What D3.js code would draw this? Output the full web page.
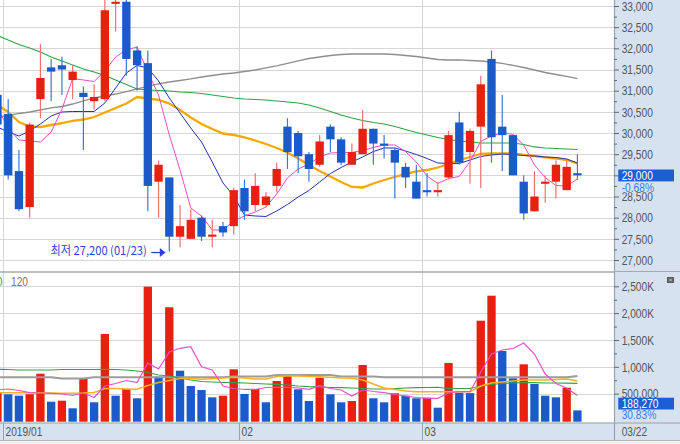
<!DOCTYPE html>
<html><head><meta charset="utf-8">
<script src="https://cdn.jsdelivr.net/npm/d3@7"></script>
<style>html,body{margin:0;padding:0;background:#fff;} svg{display:block;}</style>
</head><body><svg id="c" width="680" height="444"></svg>
<script>
// ---------- DATA ----------
const dates = ["2018-12-28","2019-01-02","2019-01-03","2019-01-04","2019-01-07","2019-01-08","2019-01-09","2019-01-10","2019-01-11","2019-01-14","2019-01-15","2019-01-16","2019-01-17","2019-01-18","2019-01-21","2019-01-22","2019-01-23","2019-01-24","2019-01-25","2019-01-28","2019-01-29","2019-01-30","2019-01-31","2019-02-01","2019-02-07","2019-02-08","2019-02-11","2019-02-12","2019-02-13","2019-02-14","2019-02-15","2019-02-18","2019-02-19","2019-02-20","2019-02-21","2019-02-22","2019-02-25","2019-02-26","2019-02-27","2019-02-28","2019-03-04","2019-03-05","2019-03-06","2019-03-07","2019-03-08","2019-03-11","2019-03-12","2019-03-13","2019-03-14","2019-03-15","2019-03-18","2019-03-19","2019-03-20","2019-03-21","2019-03-22"];
const open  = [30900,30450,29100,28250,30800,31550,31600,31250,30950,30750,30800,33050,33100,31950,31650,28850,28950,27550,27500,28000,27550,27800,27800,28700,28300,28300,28750,30150,30000,29500,29250,30150,29850,29250,29500,30100,29750,29600,29200,28850,28650,28600,28950,30250,29550,30150,31750,30150,29950,28850,28150,28800,28850,28650,29050];
const high  = [30950,30800,29600,30250,32100,31750,31800,31600,31100,31150,33200,33200,33150,32050,31950,29350,28950,28300,28200,28050,27950,27900,28700,28900,29050,28600,29300,30350,30050,29550,29950,30200,29900,29750,30550,30100,29950,29650,29300,29250,29050,28850,30050,30500,30100,31350,31950,30900,29950,29000,29100,29000,29350,29350,29500];
const low   = [30100,28900,28150,28000,30350,30750,30900,30800,29600,30550,30750,32400,31350,31000,28150,28000,27200,27300,27500,27450,27300,27550,27600,27950,28150,28250,28600,29150,29050,28850,29200,29550,29250,29250,29500,29250,29400,28450,28700,28450,28500,28500,28900,29250,28800,28700,29300,29100,29000,27950,28150,28350,28450,28650,28900];
const close = [30200,29000,28200,30200,31300,31450,31500,31450,30850,30850,32900,33100,31750,31600,28750,29250,27550,27800,27950,27550,27600,27650,28650,28150,28750,28500,29150,29550,29450,29150,29800,29850,29300,29550,30100,29750,29700,29300,28950,28450,28600,28650,29950,29300,30050,31150,29900,29950,29000,28100,28500,28850,29250,29200,29000];
const volume = [520000,488000,462000,490000,872000,350000,369000,227000,786000,339000,1611000,462000,587000,414000,2493000,816000,2109000,928000,643000,568000,432000,462000,954000,494000,587000,339000,736000,829000,581000,363000,797000,488000,339000,363000,1034000,414000,339000,507000,462000,414000,425000,239000,1072000,518000,510000,1859000,2325000,1295000,786000,1047000,680000,462000,432000,611000,188270];

// price moving averages
const ma5   = [30591,30118,29835,29811,29787,30024,30560,31287,31252,31217,31465,31795,31961,32032,31441,30898,29953,29126,28229,28040,27709,27709,27922,28040,28134,28252,28559,28937,29150,29268,29433,29528,29540,29540,29587,29658,29717,29717,29563,29315,28984,28807,28925,28973,29327,29799,29929,30012,29965,29717,29244,28949,28760,28748,28914];
const ma10  = [30142,30024,29929,30047,30213,30402,30496,30508,30508,30508,30709,31063,31417,31595,31536,31228,30827,30473,30118,29788,29315,28819,28512,28063,28040,28028,28158,28311,28489,28642,28843,29043,29185,29315,29433,29563,29646,29646,29575,29492,29398,29292,29280,29280,29362,29445,29481,29504,29492,29469,29457,29433,29422,29386,29292];
const ma20  = [30662,30496,30260,30154,30142,30189,30236,30284,30319,30378,30485,30591,30697,30850,30815,30780,30697,30543,30366,30213,30095,29988,29953,29894,29823,29740,29646,29540,29398,29244,29103,28973,28843,28725,28713,28807,28890,28961,29032,29091,29126,29185,29268,29362,29433,29504,29516,29516,29516,29481,29457,29422,29398,29362,29279];
const ma60  = [32303,32197,32091,32008,31913,31795,31701,31606,31512,31441,31358,31252,31146,31040,31016,31004,30992,30969,30957,30933,30898,30862,30827,30803,30791,30780,30756,30732,30709,30662,30591,30508,30425,30355,30296,30248,30213,30154,30083,30012,29953,29894,29847,29811,29788,29764,29764,29764,29764,29729,29670,29646,29634,29622,29610];
const ma120 = [30366,30414,30461,30496,30543,30591,30626,30685,30756,30827,30874,30921,30980,31040,31099,31158,31205,31240,31276,31323,31358,31394,31417,31453,31488,31536,31583,31643,31701,31760,31795,31831,31854,31866,31866,31866,31866,31854,31831,31807,31772,31736,31725,31725,31713,31701,31677,31643,31595,31547,31488,31429,31382,31335,31287];

// volume moving averages (thousands)
const vma5   = [568,587,559,518,512,507,494,466,512,428,643,689,745,708,1071,959,1276,1345,1375,1002,941,643,596,578,578,615,619,619,605,581,648,596,568,456,568,540,518,484,456,428,414,414,512,537,537,904,1239,1313,1341,1444,1239,866,689,605,466];
const vma20  = [518,518,518,518,518,512,507,507,512,522,596,596,587,581,652,708,745,782,782,768,779,792,805,792,773,773,820,829,829,820,816,805,792,786,755,680,605,578,550,537,537,537,537,537,537,643,699,717,736,755,755,755,764,773,736];
const vma60  = [954,950,941,941,941,941,950,950,950,950,954,950,941,922,894,848,829,792,755,727,717,708,704,699,689,680,674,661,643,630,624,615,611,605,596,587,587,592,605,611,615,619,596,596,596,643,671,689,699,704,704,699,699,695,693];
const vma120 = [805,805,805,805,805,805,782,782,782,805,805,805,805,805,805,805,805,805,805,805,805,805,820,820,820,820,848,848,848,848,848,848,820,820,820,820,805,805,805,805,805,805,805,805,805,805,805,805,805,805,805,805,805,805,829];

// axis ticks / labels
const priceTicks = [27000,27500,28000,28500,29000,29500,30000,30500,31000,31500,32000,32500,33000];
const volTicks = [500000,1000000,1500000,2000000,2500000];
const volTickLabels = ["500,000","1,000K","1,500K","2,000K","2,500K"];
const monthTickDates = ["2019-01-02","2019-02-01","2019-03-04"];
const monthTickLabels = ["2019/01","02","03"];
const lastDateLabel = "03/22";
const lastChangePct = "-0.68%";
const lastVolPct = "30.83%";

// ---------- LAYOUT ----------
const W = 680, H = 444, PR = 614;
const svg = d3.select("#c");
const x = d3.scalePoint().domain(dates).range([-2.54, 577.42]);
const bw = x.step() * 0.775;
const y = d3.scaleLinear().domain([27000, 33000]).range([260, 6]);
const yv = d3.scaleLinear().domain([0, 2500000]).range([420.5, 286.3]);

const RED = "#e8200f", BLUE = "#1a5bc9", REDW = "#f07070", BLUEW = "#3b78d8";
const PANEL = "#d6e2ef";
const FONT = "'Liberation Sans', Arial, sans-serif";
const SX = 0.85;

svg.append("rect").attr("width", W).attr("height", H).attr("fill", "#fff");
const defs = svg.append("defs");
defs.append("clipPath").attr("id", "cp").append("rect").attr("x", 0).attr("y", 0).attr("width", PR).attr("height", 271);
defs.append("clipPath").attr("id", "cv").append("rect").attr("x", 0).attr("y", 273).attr("width", PR).attr("height", 149.5);

function txt(g, xx, yy, s, fill, size, sx, family, anchor) {
  return g.append("text").attr("transform", `translate(${xx},${yy}) scale(${sx},1)`)
    .attr("dy", "0.35em").attr("font-size", size).attr("font-family", family)
    .attr("fill", fill).attr("text-anchor", anchor || "start").text(s);
}

// grid
const grid = svg.append("g");
grid.selectAll(".hp").data(priceTicks).join("line")
  .attr("x1", 0).attr("x2", PR).attr("y1", d => Math.round(y(d)) + 0.5).attr("y2", d => Math.round(y(d)) + 0.5)
  .attr("stroke", "#d6d6d6").attr("stroke-width", 1);
grid.selectAll(".hv").data(volTicks).join("line")
  .attr("x1", 0).attr("x2", PR).attr("y1", d => Math.round(yv(d)) + 0.5).attr("y2", d => Math.round(yv(d)) + 0.5)
  .attr("stroke", "#d6d6d6").attr("stroke-width", 1);
const monthX = d => Math.round(x(d) - bw / 2) - 0.5;
grid.selectAll(".vg").data(monthTickDates).join("line")
  .attr("x1", monthX).attr("x2", monthX).attr("y1", 0).attr("y2", 423)
  .attr("stroke", "#d4d4d4").attr("stroke-width", 1);

// price MA lines
const idx = d3.range(dates.length);
const pline = arr => d3.line().x(i => x(dates[i])).y(i => y(arr[i]))(idx);
const gp = svg.append("g").attr("clip-path", "url(#cp)");
[[ma120, "#8e8e8e", 1.3], [ma60, "#2fa346", 1.2], [ma20, "#f6a800", 2.3], [ma10, "#2232b4", 1], [ma5, "#ec4cc6", 1]]
  .forEach(([a, c, w]) => gp.append("path").attr("d", pline(a)).attr("fill", "none").attr("stroke", c).attr("stroke-width", w));

// candles
const candles = gp.selectAll(".cd").data(idx).join("g");
candles.append("line")
  .attr("x1", i => x(dates[i])).attr("x2", i => x(dates[i]))
  .attr("y1", i => y(high[i])).attr("y2", i => y(low[i]))
  .attr("stroke", i => close[i] >= open[i] ? REDW : BLUEW).attr("stroke-width", 1.2);
candles.append("rect")
  .attr("x", i => x(dates[i]) - bw / 2).attr("width", bw)
  .attr("y", i => y(Math.max(open[i], close[i])))
  .attr("height", i => Math.max(2, Math.abs(y(open[i]) - y(close[i]))))
  .attr("fill", i => close[i] >= open[i] ? RED : BLUE);

// lowest annotation
const minI = d3.minIndex(low);
const cx = x(dates[minI]);
const ay = y(low[minI]) + 1;
const md = dates[minI].slice(5).replace("-", "/");
txt(svg, cx - 22.5, ay - 1.5, `최저 ${d3.format(",")(low[minI])} (${md})`, "#2d3fd8", 12, 0.93, "'Noto Sans CJK KR', sans-serif", "end");
svg.append("line").attr("x1", cx - 18).attr("x2", cx - 8).attr("y1", ay).attr("y2", ay).attr("stroke", "#2d3fd8").attr("stroke-width", 1.3);
svg.append("path").attr("d", `M${cx - 3.8},${ay} L${cx - 9.5},${ay - 4.5} L${cx - 9.5},${ay + 4.5} Z`).attr("fill", "#2d3fd8");

// volume bars
const gv = svg.append("g").attr("clip-path", "url(#cv)");
gv.selectAll(".vb").data(idx).join("rect")
  .attr("x", i => x(dates[i]) - bw / 2).attr("width", bw)
  .attr("y", i => yv(volume[i])).attr("height", i => yv(0) + 1.2 - yv(volume[i]))
  .attr("fill", i => (i === 0 || volume[i] > volume[i - 1]) ? RED : BLUE);
const vline = arr => d3.line().x(i => x(dates[i])).y(i => yv(arr[i] * 1000))(idx);
[[vma120, "#9c9c9c", 2], [vma60, "#2fa346", 1.2], [vma20, "#f6b21e", 1.5], [vma5, "#e850c8", 1.2]]
  .forEach(([a, c, w]) => gv.append("path").attr("d", vline(a)).attr("fill", "none").attr("stroke", c).attr("stroke-width", w));

// volume legend (cut off at left, as in the original)
txt(svg, 2.3, 281.7, "60", "#2fa346", 12, SX, FONT, "end");
txt(svg, 11, 281.7, "120", "#777", 12, SX, FONT);

// separator between panels
svg.append("line").attr("x1", 0).attr("x2", W).attr("y1", 272).attr("y2", 272).attr("stroke", "#a9a9a9").attr("stroke-width", 1.6);

// right axis panel
svg.append("rect").attr("x", PR).attr("y", 0).attr("width", W - PR).attr("height", 441.5).attr("fill", PANEL);
svg.append("line").attr("x1", PR + 0.5).attr("x2", PR + 0.5).attr("y1", 0).attr("y2", 441.5).attr("stroke", "#9aa4b0").attr("stroke-width", 1.2);
svg.append("line").attr("x1", PR).attr("x2", W).attr("y1", 271.5).attr("y2", 271.5).attr("stroke", "#a9a9a9").attr("stroke-width", 1.2);

function styleAxis(g) {
  g.select(".domain").remove();
  g.selectAll("line").attr("stroke", "#666");
  g.selectAll("text").attr("x", 0).attr("dy", "0.35em")
    .attr("transform", `translate(7.7,0) scale(${SX},1)`)
    .attr("fill", "#555").attr("font-size", 12).attr("font-family", FONT);
}
const axP = svg.append("g").attr("transform", `translate(${PR},0)`)
  .call(d3.axisRight(y).tickValues(priceTicks).tickFormat(d3.format(",")).tickSize(5));
styleAxis(axP);
const minorP = d3.range(27250, 33000, 500);
svg.append("g").attr("transform", `translate(${PR},0)`)
  .call(d3.axisRight(y).tickValues(minorP).tickFormat("").tickSize(3)).call(styleAxis);
const axV = svg.append("g").attr("transform", `translate(${PR},0)`)
  .call(d3.axisRight(yv).tickValues(volTicks).tickFormat((d, i) => volTickLabels[i]).tickSize(5));
styleAxis(axV);
svg.append("g").attr("transform", `translate(${PR},0)`)
  .call(d3.axisRight(yv).tickValues(d3.range(750000, 2500000, 500000)).tickFormat("").tickSize(3)).call(styleAxis);

// last price box
const lastI = dates.length - 1;
const lpY = y(close[lastI]);
svg.append("rect").attr("x", 618.3).attr("y", lpY - 5.8).attr("width", 55.7).attr("height", 12).attr("fill", "#1b5fd2");
txt(svg, 621.7, lpY + 0.2, d3.format(",")(close[lastI]), "#fff", 12, SX, FONT);
svg.append("rect").attr("x", 618.3).attr("y", lpY + 6.4).attr("width", 55.7).attr("height", 10.5).attr("fill", PANEL);
txt(svg, 621.7, lpY + 12, lastChangePct, "#3a7de6", 12, SX, FONT);

// last volume box
const lvY = 403.5;
svg.append("rect").attr("x", 618.3).attr("y", lvY - 5.8).attr("width", 55.7).attr("height", 11.8).attr("fill", "#1b5fd2");
txt(svg, 621.7, lvY + 0.2, d3.format(",")(volume[lastI]), "#fff", 12, SX, FONT);
txt(svg, 621.7, lvY + 11.7, lastVolPct, "#3a7de6", 12, SX, FONT);

// small icon
svg.append("rect").attr("x", 667).attr("y", 277).attr("width", 7).attr("height", 6).attr("fill", "#5c5c5c");
svg.append("path").attr("d", "M669,278.5 L672,281.5 M672,278.5 L669,281.5").attr("stroke", "#ddd").attr("stroke-width", 0.8);

// bottom axis band
svg.append("rect").attr("x", 0).attr("y", 422.5).attr("width", W).attr("height", 18).attr("fill", PANEL);
svg.append("line").attr("x1", 0).attr("x2", W).attr("y1", 423).attr("y2", 423).attr("stroke", "#a0a0a0").attr("stroke-width", 1.2);
svg.append("line").attr("x1", PR + 0.5).attr("x2", PR + 0.5).attr("y1", 422.5).attr("y2", 440.5).attr("stroke", "#9aa4b0").attr("stroke-width", 1.2);
monthTickDates.forEach((d, k) => {
  const mx = monthX(d);
  svg.append("line").attr("x1", mx).attr("x2", mx).attr("y1", 423).attr("y2", 440).attr("stroke", "#9aa4b0").attr("stroke-width", 1);
  txt(svg, mx + 2, 431.7, monthTickLabels[k], "#555", 12, SX, FONT);
});
txt(svg, 621.7, 431.7, lastDateLabel, "#555", 12, SX, FONT);

// bottom strip
svg.append("rect").attr("x", 0).attr("y", 440.5).attr("width", W).attr("height", 3.5).attr("fill", "#f1f1f1");
svg.append("line").attr("x1", 0).attr("x2", W).attr("y1", 440.5).attr("y2", 440.5).attr("stroke", "#b8b8b8").attr("stroke-width", 1);
</script></body></html>
